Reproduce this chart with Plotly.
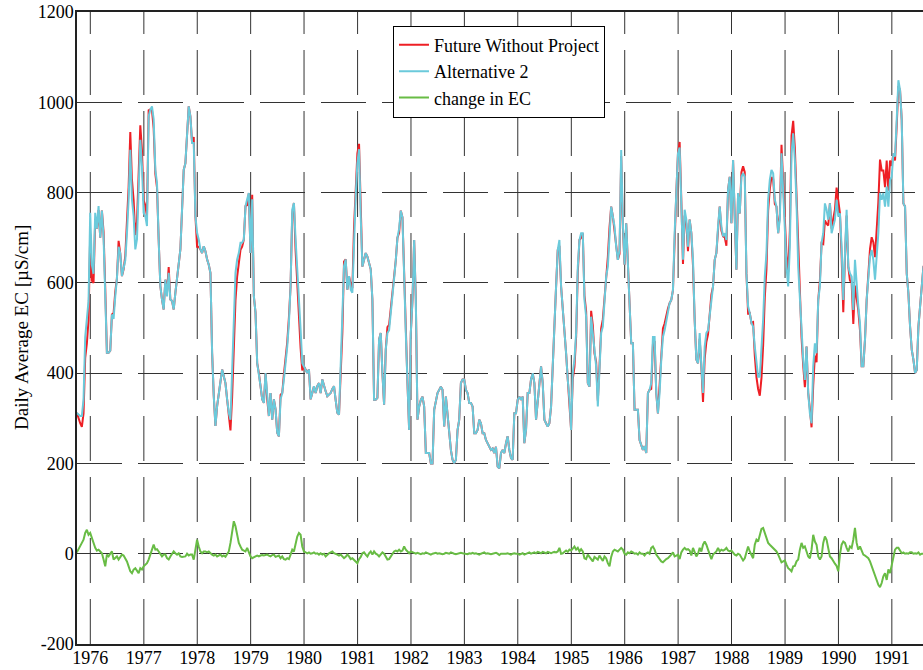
import pandas as pd
import plotly.graph_objects as go

# ---------------- data ----------------
# samples every 1/32 year starting 1 Oct 1975 (one row = one water year)
series_start = "1975-10-01"
samples_per_year = 32

alt2_ec = [
    312,308,305,305,342,480,519,560,755,640,620,755,720,770,700,760,700,560,445,445,450,530,520,570,610,680,665,615,630,650,710,785,
    895,785,748,674,696,821,917,858,755,748,726,969,984,991,962,851,821,696,593,563,541,607,570,622,563,560,541,578,607,640,674,762,
    850,865,917,991,969,910,910,748,711,696,674,666,681,670,652,640,622,445,349,283,327,356,386,408,393,378,342,312,297,400,519,622,
    652,666,689,689,696,770,785,799,666,785,570,534,422,400,371,342,334,400,342,305,356,297,342,320,268,260,342,356,386,422,459,511,
    593,762,777,696,637,563,497,422,415,408,400,408,342,356,371,356,371,378,356,386,371,360,349,352,356,365,371,340,312,308,415,489,
    637,652,585,615,585,578,711,792,866,896,747,636,651,666,658,640,630,562,341,341,345,474,489,400,330,452,489,495,540,585,610,650,
    700,720,760,745,640,489,378,274,489,562,695,562,297,326,341,348,326,223,223,223,200,200,319,341,356,363,370,363,282,348,304,267,
    230,208,200,208,274,297,378,386,386,363,356,334,334,326,267,267,274,297,289,267,267,252,245,237,230,233,223,237,193,189,223,230,
    223,245,260,230,212,208,311,311,341,348,341,348,245,274,356,356,386,400,378,297,341,370,415,378,297,289,282,289,326,415,489,592,
    673,695,592,548,503,444,386,341,274,400,430,489,636,695,710,710,562,525,378,370,525,489,444,415,326,415,489,503,562,614,636,695,
    769,747,725,680,651,673,894,732,640,732,651,540,466,466,319,319,319,252,238,230,238,223,356,363,378,480,480,356,311,356,430,480,
    495,518,533,555,562,584,710,799,887,900,784,651,762,740,680,740,710,651,518,430,422,489,415,356,459,489,495,533,562,592,651,666,
    725,769,725,703,710,695,806,835,732,872,747,629,799,754,835,843,835,621,548,533,511,503,459,422,392,392,444,518,614,666,784,828,
    850,843,784,769,710,740,887,799,703,636,592,680,887,931,872,776,636,562,503,430,385,459,356,311,289,415,466,444,562,592,688,710,
    776,762,740,776,710,725,740,784,747,754,680,562,680,762,636,621,614,540,651,592,548,511,415,415,474,562,614,658,673,651,607,651,
    710,799,784,799,769,813,769,828,835,887,880,961,1049,1027,961,776,769,621,577,503,452,430,400,407,503,548,592,636,640,650,640,630,
]

fwp_ec = [
    312,299,289,281,311,434,466,518,709,605,600,742,720,761,700,760,713,588,445,445,450,530,533,580,610,693,665,615,630,660,727,813,
    934,828,783,706,735,864,949,893,783,772,747,982,984,982,942,842,811,696,593,563,541,607,580,635,563,560,541,578,607,640,674,762,
    850,865,917,991,969,910,923,748,680,680,674,666,681,670,652,640,622,445,349,283,327,356,386,408,393,378,342,312,273,347,447,561,
    614,642,673,680,696,770,772,799,666,795,570,534,422,400,371,342,334,400,342,305,356,297,342,320,268,260,352,356,398,435,469,523,
    593,753,777,672,599,517,455,406,415,408,400,408,342,356,371,356,371,378,356,386,371,360,349,352,356,365,371,340,312,308,415,489,
    647,652,585,615,597,588,724,809,887,908,747,636,651,666,658,640,630,562,341,341,345,474,489,400,330,452,502,507,540,585,610,650,
    700,711,760,745,624,480,378,274,489,562,695,562,297,326,341,348,326,223,223,223,200,200,319,341,356,363,370,363,282,348,304,267,
    230,208,200,208,274,297,378,386,386,363,356,334,334,326,267,267,274,297,289,267,267,252,245,237,230,233,223,237,193,189,223,230,
    223,245,260,230,212,208,311,311,341,348,341,348,245,274,356,356,386,400,378,297,341,370,415,378,297,289,282,289,326,415,489,592,
    673,682,592,548,503,444,386,332,274,387,414,480,623,695,700,710,572,537,378,370,538,506,444,425,339,415,499,519,562,624,657,723,
    769,747,716,680,651,664,881,723,640,732,651,540,466,466,319,319,319,252,238,230,238,223,356,363,365,464,471,356,311,369,447,499,
    510,530,543,555,562,584,710,799,887,912,784,642,749,731,670,740,710,638,518,430,422,476,415,336,432,469,486,533,574,592,651,666,
    712,769,716,703,701,682,806,835,732,872,747,629,799,754,845,858,845,621,532,533,511,513,439,391,365,350,389,461,568,631,760,808,
    834,830,775,769,710,753,906,816,718,660,624,715,926,959,899,793,649,553,479,417,369,459,356,321,280,373,439,424,562,605,688,686,
    738,731,727,776,720,742,762,811,786,754,660,535,656,749,636,605,601,509,594,568,539,495,415,415,474,562,624,675,701,690,657,709,
    779,873,849,849,812,871,804,871,859,887,871,948,1036,1027,961,776,769,621,577,503,452,430,400,407,503,548,592,636,640,650,640,630,
]

change_ec = [
    3,9,16,24,31,46,53,42,46,35,20,13,7,9,5,1,-13,-28,-2,-6,0,5,-13,-10,-6,-13,-6,-2,-4,-10,-17,-28,
    -39,-43,-35,-32,-39,-43,-32,-35,-28,-24,-21,-13,-2,9,20,9,10,5,-2,-6,-2,-2,-10,-13,-6,1,5,1,-2,1,-6,-7,
    -6,-6,0,-4,-2,-2,-13,5,31,16,5,1,5,5,3,5,1,-2,-4,-2,-6,-4,-2,-6,-4,-7,-2,5,24,53,72,61,
    38,24,16,9,7,5,13,5,-6,-10,-7,-6,-4,-6,-4,-3,-4,-3,-2,-4,-6,-3,-2,-7,-6,-4,-10,-6,-12,-13,-10,-12,
    -2,9,5,24,38,46,42,16,5,3,1,3,0,1,3,0,1,-2,1,-2,0,-6,-2,1,3,5,1,0,-2,-4,-2,-6,
    -10,-7,-2,-6,-12,-10,-13,-17,-21,-12,-7,1,3,-2,-6,1,5,-2,5,0,-2,-6,-2,3,0,-7,-13,-12,-7,-2,5,7,
    5,9,5,7,16,9,5,1,5,3,1,0,2,0,-1,1,0,3,1,0,-2,0,1,2,0,1,0,-1,0,2,1,0,
    3,1,0,-1,0,1,2,1,0,0,-1,1,0,2,0,1,0,-2,0,1,3,0,1,0,-1,0,1,2,0,-3,0,0,
    -1,0,1,0,-2,0,1,0,0,-2,0,1,-2,0,1,3,0,1,3,1,4,3,1,4,3,1,4,3,1,3,4,3,
    5,13,0,1,5,7,4,9,7,13,16,9,13,5,10,5,-10,-12,-2,-7,-13,-17,-7,-10,-13,-4,-10,-16,-6,-10,-21,-28,
    -7,5,9,7,5,9,13,9,0,-2,3,1,5,3,0,1,-2,3,0,0,-4,1,3,0,13,16,9,-2,-7,-13,-17,-19,
    -15,-12,-10,-7,-2,3,-6,-4,-2,-12,3,9,13,9,10,7,-4,13,5,-6,0,13,5,20,27,20,9,-4,-12,-2,1,5,
    13,5,9,7,9,13,7,5,7,1,-2,-4,0,-2,-10,-15,-10,5,16,5,-2,-10,20,31,27,42,55,57,46,35,24,20,
    16,13,9,5,-2,-13,-19,-17,-15,-24,-32,-35,-39,-28,-27,-17,-13,9,24,13,16,5,-6,-10,9,42,27,20,-6,-13,-6,24,
    38,31,13,-6,-10,-17,-22,-27,-39,-2,20,27,24,13,5,16,13,31,57,24,9,16,5,-2,-4,-7,-10,-17,-28,-39,-50,-58,
    -69,-74,-65,-50,-43,-58,-35,-43,-24,-6,9,13,13,7,1,3,0,1,0,3,3,0,1,0,3,-2,0,0,1,0,0,1,
]

tick_years = list(range(1976, 1992))
y_ticks = [-200, 0, 200, 400, 600, 800, 1000, 1200]
y_tick_labels = ["-200", "0", "200", "400", "600", "800", "1000", "1200"]
series_names = ["Future Without Project", "Alternative 2", "change in EC"]
y_title = "Daily Average EC [µS/cm]"

# ---------------- figure ----------------
step = pd.Timedelta(days=365.25 / samples_per_year)
dates = [pd.Timestamp(series_start) + k * step for k in range(len(alt2_ec))]

FONT = "Liberation Serif, Times New Roman, serif"
colors = ["#EE1F25", "#6BCADB", "#68BC45"]

fig = go.Figure()
for name, vals, col in zip(series_names, [fwp_ec, alt2_ec, change_ec], colors):
    fig.add_trace(go.Scatter(x=dates, y=vals, mode="lines", name=name,
                             line=dict(color=col, width=2)))

grid_col = "#333333"
# vertical dashed grid (drawn from the bottom upwards)
for yr in tick_years:
    fig.add_shape(type="line", xref="x", yref="y",
                  x0=f"{yr}-01-01", x1=f"{yr}-01-01",
                  y0=y_ticks[0], y1=y_ticks[-1],
                  line=dict(color=grid_col, width=1, dash="45px,16px"),
                  layer="below")

fig.update_layout(
    width=923, height=670,
    margin=dict(l=77, r=0, t=12, b=26, autoexpand=False),
    paper_bgcolor="white", plot_bgcolor="white",
    font=dict(family=FONT, size=18, color="black"),
    showlegend=True,
    legend=dict(x=0.3735, y=0.9785, xanchor="left", yanchor="top",
                bgcolor="white", bordercolor="black", borderwidth=1,
                font=dict(family=FONT, size=18, color="black"),
                tracegroupgap=0, itemwidth=30,
                entrywidth=178, entrywidthmode="pixels"),
    annotations=[dict(text=y_title, xref="paper", yref="paper", x=0, y=0.5,
                      xanchor="center", yanchor="middle", xshift=-56,
                      textangle=-90, showarrow=False,
                      font=dict(family=FONT, size=19, color="black"))],
)

fig.update_xaxes(
    type="date", automargin=False,
    range=["1975-10-02", "1991-08-02"],
    tickvals=[f"{y}-01-01" for y in tick_years],
    ticktext=[str(y) for y in tick_years],
    showgrid=False, zeroline=False,
    showline=True, linecolor="#222222", linewidth=1.5, mirror=True,
    ticks="", ticklabelstandoff=-3, ticklabeloverflow="allow",
    tickfont=dict(family=FONT, size=18, color="black"),
)
fig.update_yaxes(
    automargin=False,
    range=[y_ticks[0], y_ticks[-1]],
    tickvals=y_ticks, ticktext=y_tick_labels,
    showgrid=True, gridcolor=grid_col, gridwidth=1, griddash="45px,16px",
    zeroline=False,
    showline=True, linecolor="#222222", linewidth=1.5, mirror=False,
    ticks="", ticklabelstandoff=-2, ticklabeloverflow="allow",
    tickfont=dict(family=FONT, size=18, color="black"),
)

# the page's default 8px body margin would shift the 923x670 figure; remove it
fig.write_html("out.html", config={"displayModeBar": False},
               post_script="document.body.style.margin='0px';")
